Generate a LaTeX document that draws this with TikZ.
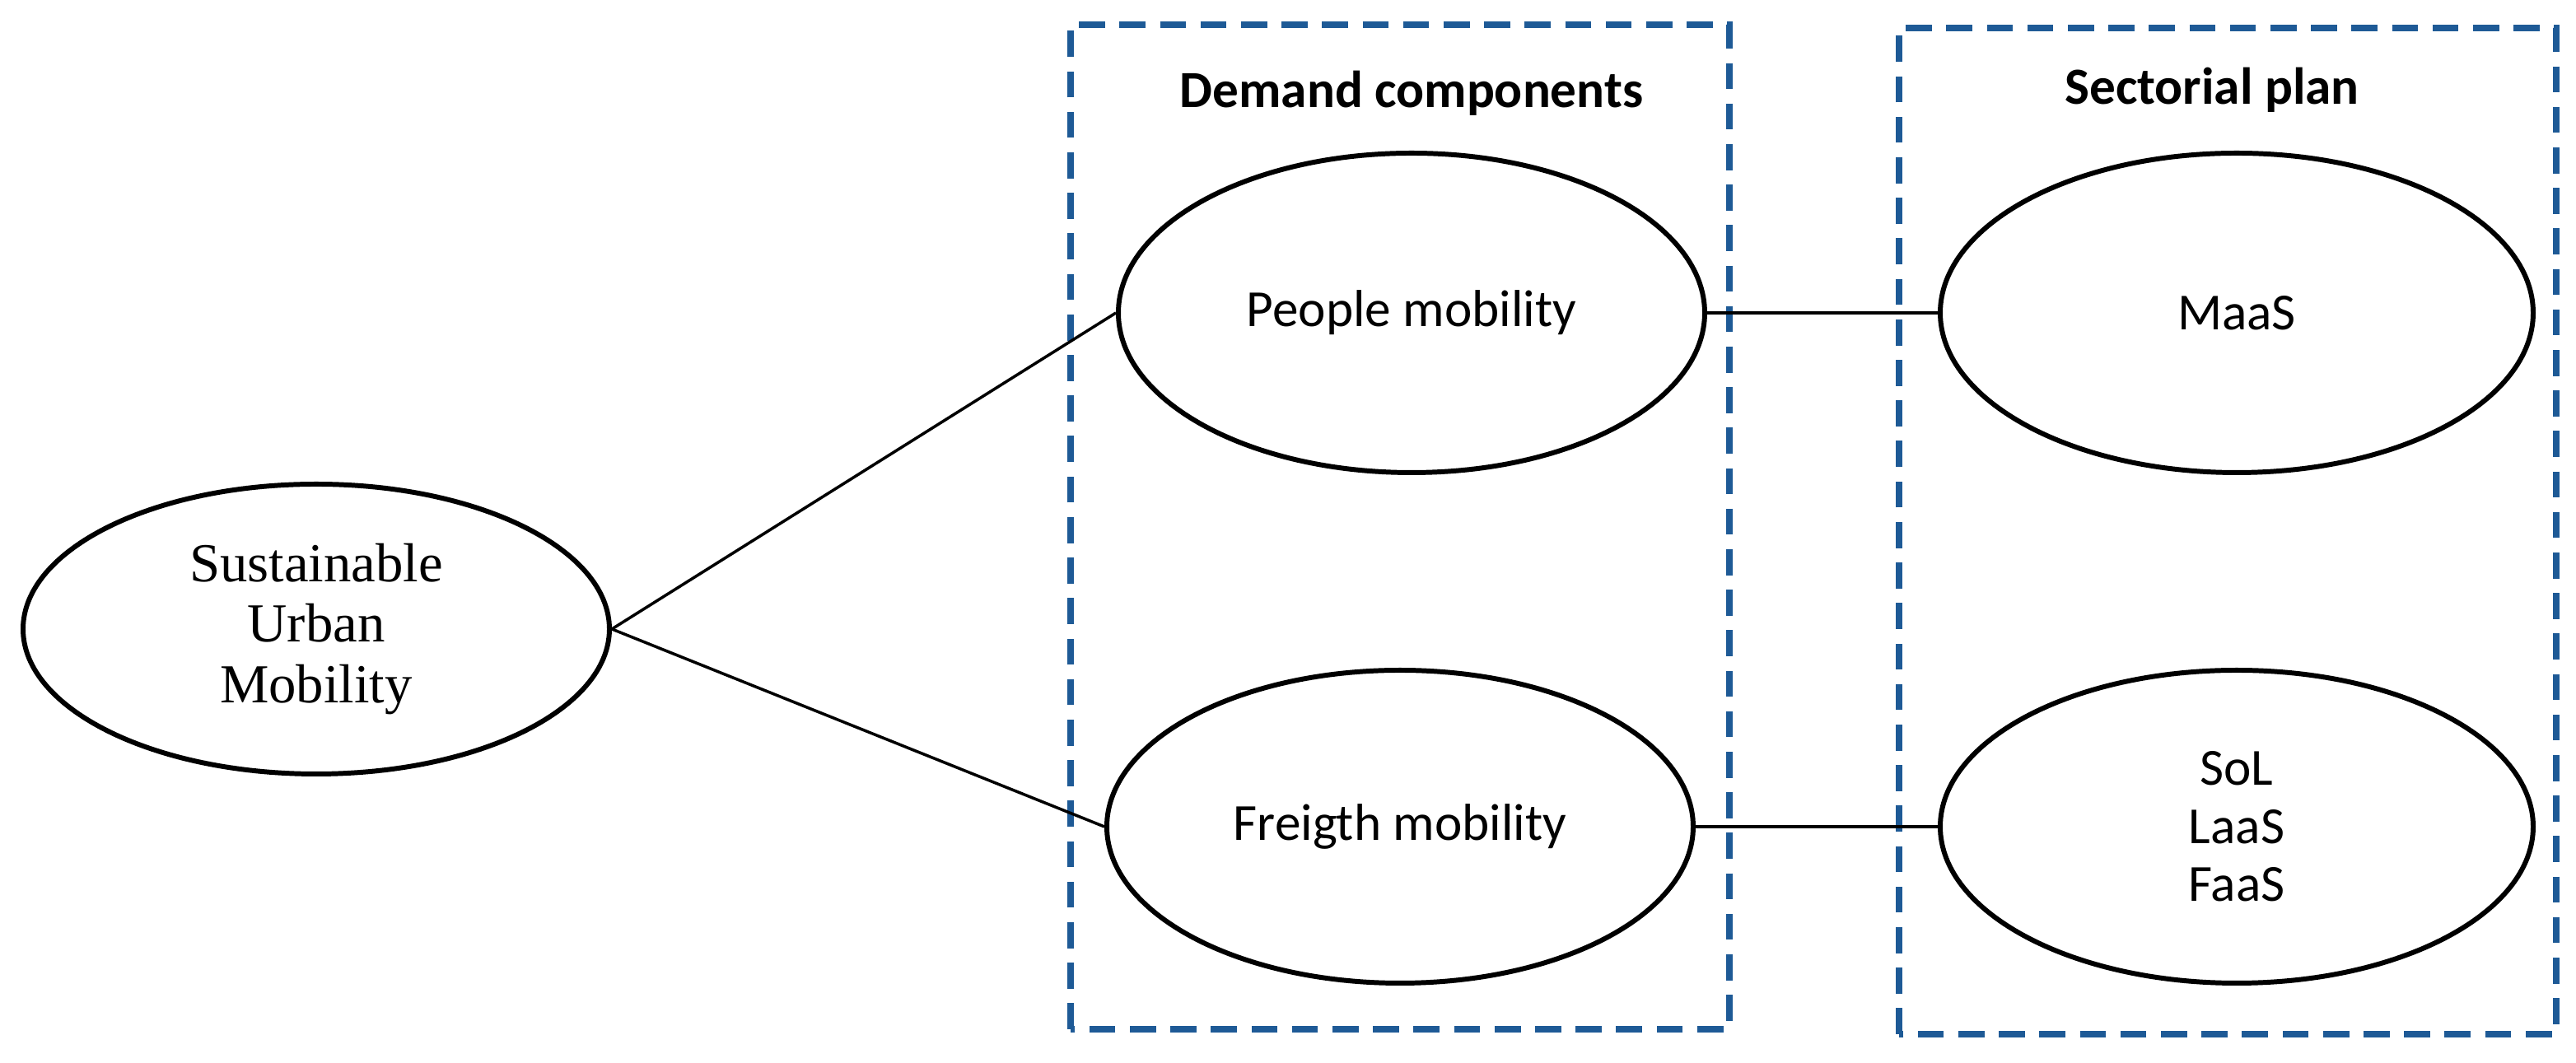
\documentclass[tikz,border=0pt]{standalone}
\usepackage{fontspec}
\setmainfont{Carlito}
\newfontfamily\lmserif{Liberation Serif}
\usetikzlibrary{shapes.geometric,positioning}
\definecolor{boxblue}{RGB}{30,90,150}
\begin{document}
\begin{tikzpicture}[x=1cm,y=1cm,
  oval/.style={ellipse,draw,line width=1.7pt,minimum width=7.12cm,minimum height=3.8cm,inner sep=0pt,align=center,font=\fontsize{18}{20}\selectfont},
  group/.style={draw=boxblue,dashed,line width=2.2pt,dash pattern=on 9pt off 5pt},
  title/.style={font=\fontsize{18}{21}\selectfont\bfseries}]
\useasboundingbox (0,0) rectangle (31.28,12.91);
\draw[group] (13.0,0.41) rectangle (21.0,12.61);
\draw[group] (23.06,0.35) rectangle (31.04,12.57);
\node[title] (tdem) at (17.14,11.78) {Demand components};
\node[title] (tsec) at (26.86,11.82) {Sectorial plan};
\node[oval,minimum height=3.52cm,font=\lmserif\fontsize{19}{21}\selectfont] (sum) at (3.84,5.27) {Sustainable\\Urban\\Mobility};
\node[oval,minimum height=3.88cm] (people) at (17.14,9.11) {People mobility};
\node[oval] (freight) at (17.0,2.87) {Freigth mobility};
\node[oval,minimum width=7.2cm,minimum height=3.88cm] (maas) at (27.16,9.11) {MaaS};
\node[oval,minimum width=7.2cm] (sol) at (27.16,2.87) {SoL\\LaaS\\FaaS};
\draw[line width=1pt] (sum.east) -- (people.west);
\draw[line width=1pt] (sum.east) -- (freight.west);
\draw[line width=1pt] (people.east) -- (maas.west);
\draw[line width=1pt] (freight.east) -- (sol.west);
\end{tikzpicture}
\end{document}
